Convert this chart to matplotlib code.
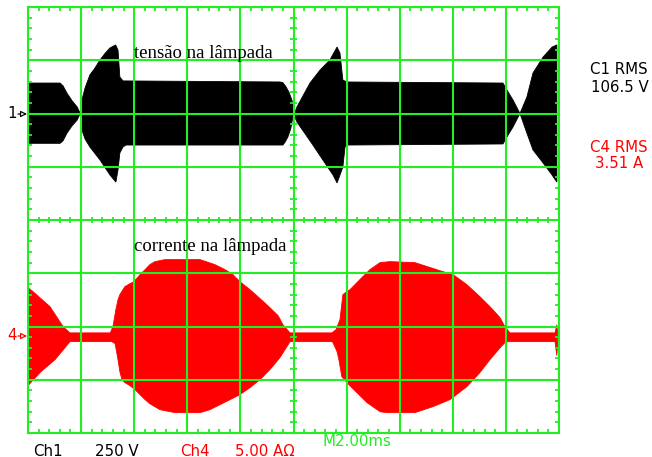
import numpy as np
import matplotlib
matplotlib.use("Agg")
import matplotlib.pyplot as plt
from matplotlib.collections import LineCollection

# Scope settings
CH1_VDIV = 250.0   # V/div
CH4_ADIV = 5.0     # A/div
T_DIV = 2.0        # ms/div
CH1_POS = 6.0      # trace offset, divisions from bottom
CH4_POS = 1.8

# Ch1 envelope (tensão), time in ms, volts
ch1_t_up = [0.00, 1.21, 1.32, 1.47, 1.66, 1.85, 1.97, 2.03, 2.15, 2.33, 2.52, 2.71,
            2.90, 3.09, 3.30, 3.39, 3.46, 3.58, 9.49, 9.60, 9.72, 9.83, 9.94, 10.00,
            10.04, 10.13, 10.62, 11.00, 11.37, 11.64, 11.75, 11.86, 12.01, 17.89,
            18.04, 18.27, 18.53, 18.79, 19.02, 19.40, 19.74, 19.92]
ch1_v_up = [143, 143, 130, 95, 60, 31, 0, 63, 120, 181, 213, 251,
            282, 308, 322, 298, 171, 153, 148, 145, 125, 100, 63, 30,
            0, 31, 143, 204, 251, 312, 284, 157, 148, 143,
            110, 63, 0, 77, 190, 265, 312, 322]
ch1_t_lo = [0.00, 1.21, 1.32, 1.47, 1.66, 1.85, 1.97, 2.03, 2.15, 2.33, 2.71, 3.09,
            3.31, 3.39, 3.46, 3.58, 3.69, 9.60, 9.68, 9.79, 9.90, 10.00, 10.13,
            10.73, 11.18, 11.49, 11.64, 11.75, 11.86, 11.94, 12.05, 17.89, 18.04,
            18.27, 18.53, 18.79, 19.02, 19.40, 19.74, 19.92]
ch1_v_lo = [-140, -140, -128, -92, -58, -31, 0, -77, -120, -157, -218, -289,
            -322, -265, -185, -157, -148, -148, -135, -110, -70, 0, -40,
            -148, -232, -289, -326, -289, -251, -157, -148, -143, -110,
            -63, 0, -92, -171, -232, -289, -322]

# Ch4 envelope (corrente), time in ms, amperes
ch4_t_up = [0.00, 0.19, 0.83, 1.32, 1.58, 3.10, 3.20, 3.31, 3.39, 3.46, 3.65, 3.84,
            3.99, 4.22, 4.41, 4.59, 4.78, 5.16, 6.48, 7.04, 7.42, 7.72, 7.98,
            8.36, 8.74, 9.11, 9.42, 9.60, 9.87, 11.45, 11.60, 11.75, 11.86,
            12.01, 12.13, 12.50, 12.88, 13.26, 13.63, 14.57, 15.63, 16.01, 16.53,
            17.02, 17.40, 17.78, 17.96, 18.15, 19.85, 19.92, 19.95]
ch4_a_up = [4.65, 4.27, 2.86, 0.99, 0.40, 0.40, 0.99, 2.58, 3.52, 3.99, 4.74, 5.02,
            5.21, 5.87, 6.34, 6.81, 7.09, 7.28, 7.28, 6.81, 6.34, 5.87, 5.21,
            4.46, 3.62, 2.77, 2.02, 1.17, 0.40, 0.40, 0.70, 1.64, 3.99,
            4.27, 4.46, 5.40, 6.34, 7.00, 7.09, 7.00, 6.15, 5.87, 4.93,
            3.80, 2.86, 1.83, 0.99, 0.40, 0.40, 1.17, 0.40]
ch4_t_lo = [0.00, 0.45, 1.02, 1.58, 3.15, 3.28, 3.39, 3.46, 3.54, 3.65, 3.84, 4.03,
            4.22, 4.41, 4.59, 4.97, 5.54, 6.48, 6.85, 7.23, 7.61, 7.98, 8.36,
            8.74, 9.11, 9.49, 9.68, 9.87, 11.45, 11.49, 11.64, 11.71, 11.82,
            12.01, 12.39, 12.77, 13.26, 13.52, 14.57, 15.25, 15.89, 16.53, 17.02,
            17.40, 17.78, 17.96, 18.08, 19.85, 19.92, 19.95]
ch4_a_lo = [-4.55, -3.33, -2.11, -0.42, -0.42, -0.60, -2.11, -3.24, -3.99, -4.27, -4.55, -4.93,
            -5.40, -5.87, -6.25, -6.81, -7.09, -7.09, -6.81, -6.34, -5.87, -5.40, -4.74,
            -3.99, -3.05, -1.92, -1.17, -0.42, -0.42, -0.52, -1.36, -2.11, -3.71,
            -4.27, -5.21, -6.15, -7.00, -7.09, -7.09, -6.53, -5.87, -4.65, -3.33,
            -2.11, -1.00, -0.52, -0.42, -0.42, -1.74, -0.42]

GREEN = "#22ee22"
RED = "#ff0000"

W, H = 652, 457
fig = plt.figure(figsize=(W / 100, H / 100), dpi=100)
ax = fig.add_axes([28 / W, 24 / H, 531 / W, 426 / H])
ax.set_xlim(0, 10)
ax.set_ylim(0, 8)
ax.axis("off")


def envelope(t_up, y_up, t_lo, y_lo, scale, pos):
    xs = list(np.array(t_up) / T_DIV) + list(np.array(t_lo[::-1]) / T_DIV)
    ys = list(np.array(y_up) / scale + pos) + list(np.array(y_lo[::-1]) / scale + pos)
    return xs, ys


x1, y1 = envelope(ch1_t_up, ch1_v_up, ch1_t_lo, ch1_v_lo, CH1_VDIV, CH1_POS)
ax.fill(x1, y1, color="black", lw=0.6, zorder=2)
x4, y4 = envelope(ch4_t_up, ch4_a_up, ch4_t_lo, ch4_a_lo, CH4_ADIV, CH4_POS)
ax.fill(x4, y4, color=RED, lw=0.6, zorder=2)

# graticule
for gx in range(11):
    ax.axvline(gx, color=GREEN, lw=1.5, zorder=3, clip_on=False)
for gy in range(9):
    ax.axhline(gy, color=GREEN, lw=1.5, zorder=3, clip_on=False)

segs = []
tx, ty = 0.075, 0.075
hx, hy = 0.057, 0.056
for v in np.arange(0.2, 10, 0.2):
    if abs(v - round(v)) < 1e-6:
        continue
    segs += [[(v, 0), (v, ty)], [(v, 8 - ty), (v, 8)], [(v, 4 - hy), (v, 4 + hy)]]
for v in np.arange(0.2, 8, 0.2):
    if abs(v - round(v)) < 1e-6:
        continue
    segs += [[(0, v), (tx, v)], [(10 - tx, v), (10, v)], [(5 - hx, v), (5 + hx, v)]]
ax.add_collection(LineCollection(segs, colors=GREEN, linewidths=1.3, zorder=3))

# annotations in the traces
ax.text(2.0, 7.04, "tensão na lâmpada", family="Liberation Serif", fontsize=13.5,
        ha="left", va="baseline", color="black", zorder=4)
ax.text(2.0, 3.42, "corrente na lâmpada", family="Liberation Serif", fontsize=13.5,
        ha="left", va="baseline", color="black", zorder=4)


def ftxt(px, py, s, color="black"):
    fig.text(px / W, 1 - py / H, s, ha="left", va="center", fontsize=10.8,
             color=color, family="DejaVu Sans")


ftxt(590, 70, "C1 RMS")
ftxt(591, 87, "106.5 V")
ftxt(590, 147, "C4 RMS", RED)
ftxt(595, 163, "3.51 A", RED)

ftxt(33, 451, "Ch1")
ftxt(95, 451, "250 V")
ftxt(180, 451, "Ch4", RED)
ftxt(235, 451, "5.00 AΩ", RED)
ftxt(322, 441, "M2.00ms", GREEN)

# channel ground markers
for label, py, col in (("1", 114, "black"), ("4", 336, RED)):
    ftxt(7, py, label, col)
    ax.annotate("", xy=(27, H - py), xytext=(18, H - py), xycoords="figure pixels",
                textcoords="figure pixels",
                arrowprops=dict(arrowstyle="-|>", fc="white", ec=col, lw=0.9,
                                mutation_scale=9, shrinkA=0, shrinkB=0))

fig.savefig("out.png", dpi=100, facecolor="white")
